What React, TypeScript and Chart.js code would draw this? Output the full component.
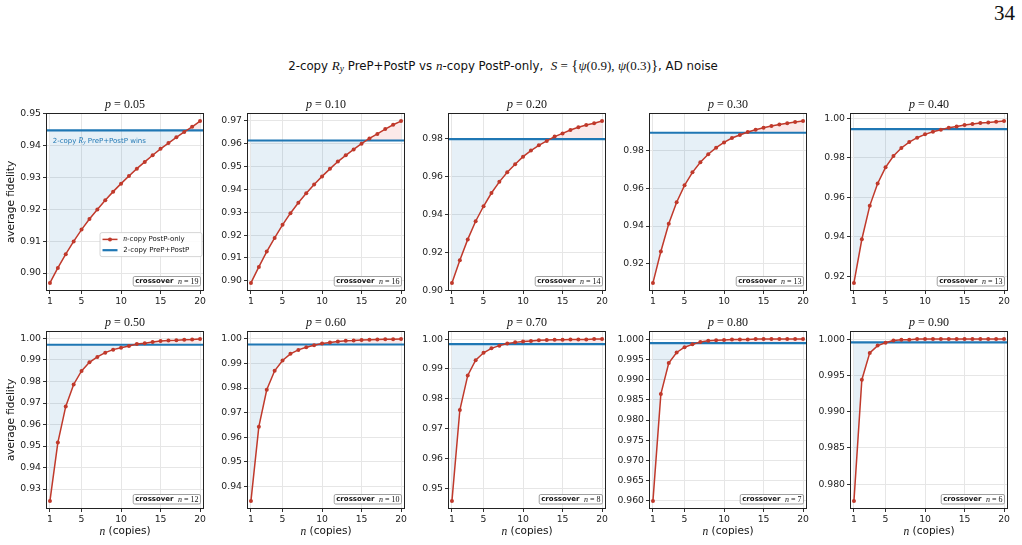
import React, { useEffect, useRef } from "react";
import { Chart, registerables } from "chart.js";

Chart.register(...registerables);

// ---------------- data ----------------
const N_COPIES = [1, 2, 3, 4, 5, 6, 7, 8, 9, 10, 11, 12, 13, 14, 15, 16, 17, 18, 19, 20];
const X_TICKS = [1, 5, 10, 15, 20];
const X_MIN = 0.5;
const X_MAX = 20.5;

const NOISE_P = ["0.05", "0.10", "0.20", "0.30", "0.40", "0.50", "0.60", "0.70", "0.80", "0.90"];

const FID_005 = [0.8969, 0.9016, 0.9059, 0.9099, 0.9136, 0.9169, 0.9199, 0.9228, 0.9255, 0.928, 0.9304, 0.9327, 0.9348, 0.9369, 0.9389, 0.9407, 0.9425, 0.9442, 0.9458, 0.9476];
const FID_010 = [0.8991, 0.9061, 0.9128, 0.9188, 0.9245, 0.9296, 0.9342, 0.9383, 0.9422, 0.9457, 0.949, 0.9522, 0.9549, 0.9575, 0.96, 0.9623, 0.9643, 0.9664, 0.9683, 0.9699];
const FID_020 = [0.9038, 0.9158, 0.9268, 0.9364, 0.9443, 0.9513, 0.9572, 0.9623, 0.9665, 0.9705, 0.9737, 0.9765, 0.9788, 0.9811, 0.9828, 0.9846, 0.986, 0.9872, 0.9882, 0.9893];
const FID_030 = [0.9098, 0.9265, 0.9412, 0.9526, 0.9616, 0.9685, 0.9738, 0.9781, 0.9816, 0.9844, 0.9867, 0.9883, 0.9899, 0.9911, 0.9922, 0.9931, 0.9939, 0.9946, 0.9952, 0.9957];
const FID_040 = [0.9166, 0.9387, 0.9556, 0.9669, 0.9751, 0.9808, 0.9849, 0.9879, 0.9901, 0.9918, 0.9931, 0.9941, 0.9951, 0.9958, 0.9965, 0.997, 0.9975, 0.9978, 0.9982, 0.9985];
const FID_050 = [0.9245, 0.9516, 0.9684, 0.9786, 0.9849, 0.9889, 0.9914, 0.9934, 0.9948, 0.9957, 0.9965, 0.9974, 0.9978, 0.9983, 0.9988, 0.9991, 0.9992, 0.9994, 0.9995, 0.9997];
const FID_060 = [0.9341, 0.9643, 0.9793, 0.987, 0.9912, 0.9939, 0.9955, 0.9966, 0.9974, 0.9981, 0.9985, 0.9989, 0.9992, 0.9993, 0.9995, 0.9996, 0.9997, 0.9998, 0.9998, 0.9999];
const FID_070 = [0.9457, 0.9762, 0.9878, 0.9929, 0.9954, 0.9969, 0.9978, 0.9985, 0.9989, 0.9992, 0.9994, 0.9996, 0.9997, 0.9998, 0.9998, 0.9999, 0.9999, 0.9999, 1.0, 1.0];
const FID_080 = [0.96, 0.9864, 0.9941, 0.9967, 0.998, 0.9987, 0.9993, 0.9996, 0.9997, 0.9998, 0.9999, 0.9999, 0.9999, 1.0, 1.0, 1.0, 1.0, 1.0, 1.0, 1.0];
const FID_090 = [0.9777, 0.9944, 0.9981, 0.9991, 0.9995, 0.9998, 0.9999, 0.9999, 1.0, 1.0, 1.0, 1.0, 1.0, 1.0, 1.0, 1.0, 1.0, 1.0, 1.0, 1.0];

const FID_SERIES = [FID_005, FID_010, FID_020, FID_030, FID_040, FID_050, FID_060, FID_070, FID_080, FID_090];

// 2-copy PreP+PostP level per panel
const PREP_POSTP = [0.9447, 0.9614, 0.9798, 0.9895, 0.99445, 0.99707, 0.9977, 0.99833, 0.99901, 0.99955];
const CROSSOVER_N = ["19", "16", "14", "13", "13", "12", "10", "8", "7", "6"];

const Y_TICKS_005 = [0.9, 0.91, 0.92, 0.93, 0.94, 0.95];
const Y_TICKS_010 = [0.9, 0.91, 0.92, 0.93, 0.94, 0.95, 0.96, 0.97];
const Y_TICKS_020 = [0.9, 0.92, 0.94, 0.96, 0.98];
const Y_TICKS_030 = [0.92, 0.94, 0.96, 0.98];
const Y_TICKS_040 = [0.92, 0.94, 0.96, 0.98, 1.0];
const Y_TICKS_050 = [0.93, 0.94, 0.95, 0.96, 0.97, 0.98, 0.99, 1.0];
const Y_TICKS_060 = [0.94, 0.95, 0.96, 0.97, 0.98, 0.99, 1.0];
const Y_TICKS_070 = [0.95, 0.96, 0.97, 0.98, 0.99, 1.0];
const Y_TICKS_080 = [0.96, 0.965, 0.97, 0.975, 0.98, 0.985, 0.99, 0.995, 1.0];
const Y_TICKS_090 = [0.98, 0.985, 0.99, 0.995, 1.0];
const Y_TICKS = [Y_TICKS_005, Y_TICKS_010, Y_TICKS_020, Y_TICKS_030, Y_TICKS_040, Y_TICKS_050, Y_TICKS_060, Y_TICKS_070, Y_TICKS_080, Y_TICKS_090];
const Y_DECIMALS = [2, 2, 2, 2, 2, 2, 2, 2, 3, 3];

// ---------------- style / layout ----------------
const RED = "#c0392b";
const BLUE = "#1f77b4";
const RED_FILL = "rgba(214,39,40,0.10)";
const BLUE_FILL = "rgba(31,119,180,0.11)";
const SANS = '"DejaVu Sans", sans-serif';
const SERIF = '"Liberation Serif", serif';

const COL_LEFT = [46, 247, 448, 649, 850];
const ROW_TOP = [113, 331];
const PLOT_W = 158;
const PLOT_H = 178;
const AXIS_W = 46;
const PAD_T = 24;
const PAD_R = 8;

type Run = { t: string; f: string; dy?: number };

function runsWidth(ctx: CanvasRenderingContext2D, runs: Run[]) {
  let w = 0;
  for (const r of runs) {
    ctx.font = r.f;
    w += ctx.measureText(r.t).width;
  }
  return w;
}

function drawRuns(ctx: CanvasRenderingContext2D, runs: Run[], x: number, y: number, align: "left" | "center" | "right") {
  const w = runsWidth(ctx, runs);
  let cx = align === "left" ? x : align === "center" ? x - w / 2 : x - w;
  ctx.textAlign = "left";
  ctx.textBaseline = "middle";
  for (const r of runs) {
    ctx.font = r.f;
    ctx.fillText(r.t, cx, y + (r.dy || 0));
    cx += ctx.measureText(r.t).width;
  }
}

function roundRect(ctx: CanvasRenderingContext2D, x: number, y: number, w: number, h: number, r: number) {
  ctx.beginPath();
  ctx.moveTo(x + r, y);
  ctx.lineTo(x + w - r, y);
  ctx.arcTo(x + w, y, x + w, y + r, r);
  ctx.lineTo(x + w, y + h - r);
  ctx.arcTo(x + w, y + h, x + w - r, y + h, r);
  ctx.lineTo(x + r, y + h);
  ctx.arcTo(x, y + h, x, y + h - r, r);
  ctx.lineTo(x, y + r);
  ctx.arcTo(x, y, x + r, y, r);
  ctx.closePath();
}

function makeDecor(idx: number) {
  const row = Math.floor(idx / 5);
  const col = idx % 5;
  return {
    id: "decor" + idx,
    afterDraw(chart: any) {
      const ctx: CanvasRenderingContext2D = chart.ctx;
      const a = chart.chartArea;
      ctx.save();
      // spines
      ctx.strokeStyle = "#222";
      ctx.lineWidth = 1;
      const l = Math.round(a.left) + 0.5;
      const t = Math.round(a.top) + 0.5;
      const r = Math.round(a.right) - 0.5;
      const b = Math.round(a.bottom) - 0.5;
      ctx.strokeRect(l, t, r - l, b - t);

      // title
      ctx.fillStyle = "#111";
      const cx = (a.left + a.right) / 2;
      drawRuns(
        ctx,
        [
          { t: "p", f: `italic 12px ${SERIF}` },
          { t: " = " + NOISE_P[idx], f: `12px ${SERIF}` },
        ],
        cx,
        a.top - 8.5,
        "center"
      );

      // crossover box
      const cRuns: Run[] = [
        { t: "crossover", f: `bold 7px ${SANS}` },
        { t: "  ", f: `7px ${SANS}` },
        { t: "n", f: `italic 8px ${SERIF}` },
        { t: " = " + CROSSOVER_N[idx], f: `8px ${SERIF}` },
      ];
      const cw = runsWidth(ctx, cRuns) + 4;
      const ch = 9.5;
      const bx = a.right - 3.5 - cw;
      const by = a.bottom - 5 - ch;
      roundRect(ctx, bx, by, cw, ch, 1.5);
      ctx.fillStyle = "rgba(255,255,255,0.9)";
      ctx.fill();
      ctx.strokeStyle = "#888";
      ctx.lineWidth = 0.8;
      ctx.stroke();
      ctx.fillStyle = "#111";
      drawRuns(ctx, cRuns, bx + 2, by + ch / 2 + 0.3, "left");

      // y title
      if (col === 0) {
        ctx.save();
        ctx.translate(11.7, (a.top + a.bottom) / 2);
        ctx.rotate(-Math.PI / 2);
        ctx.fillStyle = "#111";
        ctx.font = `10.5px ${SANS}`;
        ctx.textAlign = "center";
        ctx.textBaseline = "middle";
        ctx.fillText("average fidelity", 0, 0);
        ctx.restore();
      }
      // x title
      if (row === 1) {
        ctx.fillStyle = "#111";
        drawRuns(
          ctx,
          [
            { t: "n", f: `italic 11.5px ${SERIF}` },
            { t: " (copies)", f: `10.5px ${SANS}` },
          ],
          cx,
          a.bottom + 22.7,
          "center"
        );
      }

      if (idx === 0) {
        // annotation
        ctx.fillStyle = BLUE;
        drawRuns(
          ctx,
          [
            { t: "2-copy ", f: `7px ${SANS}` },
            { t: "R", f: `italic 7.5px ${SERIF}` },
            { t: "y", f: `italic 5.5px ${SERIF}`, dy: 1.8 },
            { t: " PreP+PostP wins", f: `7px ${SANS}` },
          ],
          a.left + 6.7,
          a.top + 27.7,
          "left"
        );
        // legend
        const lw = 102;
        const lh = 24;
        const lx = a.right - 2 - lw;
        const ly = a.bottom - 34.4 - lh;
        roundRect(ctx, lx, ly, lw, lh, 2);
        ctx.fillStyle = "rgba(255,255,255,0.85)";
        ctx.fill();
        ctx.strokeStyle = "#cccccc";
        ctx.lineWidth = 0.8;
        ctx.stroke();
        const y1 = ly + 6.8;
        const y2 = ly + 17.6;
        ctx.strokeStyle = RED;
        ctx.lineWidth = 1.5;
        ctx.beginPath();
        ctx.moveTo(lx + 2.5, y1);
        ctx.lineTo(lx + 17.5, y1);
        ctx.stroke();
        ctx.fillStyle = RED;
        ctx.beginPath();
        ctx.arc(lx + 10, y1, 2, 0, Math.PI * 2);
        ctx.fill();
        ctx.strokeStyle = BLUE;
        ctx.lineWidth = 2.2;
        ctx.beginPath();
        ctx.moveTo(lx + 2.5, y2);
        ctx.lineTo(lx + 17.5, y2);
        ctx.stroke();
        ctx.fillStyle = "#111";
        drawRuns(
          ctx,
          [
            { t: "n", f: `italic 7.5px ${SERIF}` },
            { t: "-copy PostP-only", f: `7px ${SANS}` },
          ],
          lx + 23.3,
          y1,
          "left"
        );
        drawRuns(ctx, [{ t: "2-copy PreP+PostP", f: `7px ${SANS}` }], lx + 23.3, y2, "left");
      }
      ctx.restore();
    },
  };
}

function Panel({ idx }: { idx: number }) {
  const ref = useRef<HTMLCanvasElement | null>(null);
  const col = idx % 5;
  const row = Math.floor(idx / 5);
  const axisH = row === 1 ? 34 : 22;
  const W = AXIS_W + PLOT_W + PAD_R;
  const H = PAD_T + PLOT_H + axisH;
  const left = COL_LEFT[col] - AXIS_W;
  const top = ROW_TOP[row] - PAD_T;

  useEffect(() => {
    const data = FID_SERIES[idx];
    const level = PREP_POSTP[idx];
    const lo = Math.min(...data);
    const hi = Math.max(...data);
    const m = (hi - lo) * 0.05;
    const ticks = Y_TICKS[idx];
    const dec = Y_DECIMALS[idx];
    const tickFont = { family: SANS, size: 9.3 };
    const chart = new Chart(ref.current as HTMLCanvasElement, {
      type: "line",
      data: {
        datasets: [
          {
            label: "n-copy PostP-only",
            data: N_COPIES.map((n, k) => ({ x: n, y: data[k] })),
            borderColor: RED,
            backgroundColor: RED,
            pointBackgroundColor: RED,
            pointBorderColor: RED,
            pointRadius: 2,
            pointBorderWidth: 0,
            borderWidth: 1.5,
            tension: 0,
            fill: { target: { value: level }, above: RED_FILL, below: BLUE_FILL },
            order: 0,
          } as any,
          {
            label: "2-copy PreP+PostP",
            data: [
              { x: X_MIN, y: level },
              { x: X_MAX, y: level },
            ],
            borderColor: BLUE,
            borderWidth: 2.2,
            pointRadius: 0,
            fill: false,
            order: 1,
          },
        ],
      },
      options: {
        responsive: false,
        animation: false,
        devicePixelRatio: 1,
        events: [],
        layout: { padding: { top: PAD_T, right: PAD_R, left: 0, bottom: 0 } },
        plugins: {
          legend: { display: false },
          tooltip: { enabled: false },
          title: { display: false },
          filler: { drawTime: "beforeDatasetsDraw" },
        } as any,
        scales: {
          x: {
            type: "linear",
            min: X_MIN,
            max: X_MAX,
            afterBuildTicks: (s: any) => {
              s.ticks = X_TICKS.map((v) => ({ value: v }));
            },
            afterFit: (s: any) => {
              s.height = axisH;
            },
            ticks: {
              font: tickFont,
              color: "#222",
              padding: 2,
              maxRotation: 0,
              autoSkip: false,
              callback: (v: any) => String(v),
            },
            grid: { color: "#e6e6e6", tickColor: "#333", tickLength: 3, lineWidth: 1 },
            border: { display: false },
          },
          y: {
            type: "linear",
            min: lo - m,
            max: hi + m,
            afterBuildTicks: (s: any) => {
              s.ticks = ticks.map((v) => ({ value: v }));
            },
            afterFit: (s: any) => {
              s.width = AXIS_W;
            },
            ticks: {
              font: tickFont,
              color: "#222",
              padding: 2,
              autoSkip: false,
              callback: (v: any) => Number(v).toFixed(dec),
            },
            grid: { color: "#e6e6e6", tickColor: "#333", tickLength: 3, lineWidth: 1 },
            border: { display: false },
          },
        },
      } as any,
      plugins: [makeDecor(idx)],
    });
    return () => chart.destroy();
  }, []);

  return (
    <canvas
      ref={ref}
      width={W}
      height={H}
      style={{ position: "absolute", left, top, width: W, height: H }}
    />
  );
}

export default function App() {
  const math: React.CSSProperties = { fontFamily: SERIF, fontStyle: "italic" };
  const up: React.CSSProperties = { fontFamily: SERIF };
  return (
    <div style={{ position: "absolute", left: 0, top: 0, width: 1022, height: 545, background: "#fff", overflow: "hidden" }}>
      <div
        style={{
          position: "absolute",
          right: 7,
          top: 1,
          fontFamily: SERIF,
          fontSize: 21,
          color: "#111",
        }}
      >
        34
      </div>
      <div
        style={{
          position: "absolute",
          left: 503,
          top: 55,
          transform: "translateX(-50%)",
          whiteSpace: "nowrap",
          fontFamily: SANS,
          fontSize: 11.8,
          color: "#111",
          lineHeight: "20px",
        }}
      >
        2-copy <span style={{ ...math, fontSize: 13 }}>R</span>
        <span style={{ ...math, fontSize: 9.5, position: "relative", top: 2 }}>y</span> PreP+PostP vs{" "}
        <span style={{ ...math, fontSize: 13 }}>n</span>-copy PostP-only,&nbsp;{" "}
        <span style={{ ...math, fontSize: 13 }}>S</span>
        <span style={{ ...up, fontSize: 13 }}> = </span>
        <span style={{ ...up, fontSize: 15 }}>{"{"}</span>
        <span style={{ ...math, fontSize: 13 }}>ψ</span>
        <span style={{ ...up, fontSize: 13 }}>(0.9), </span>
        <span style={{ ...math, fontSize: 13 }}>ψ</span>
        <span style={{ ...up, fontSize: 13 }}>(0.3)</span>
        <span style={{ ...up, fontSize: 15 }}>{"}"}</span>, AD noise
      </div>
      {NOISE_P.map((_, i) => (
        <Panel key={i} idx={i} />
      ))}
    </div>
  );
}
